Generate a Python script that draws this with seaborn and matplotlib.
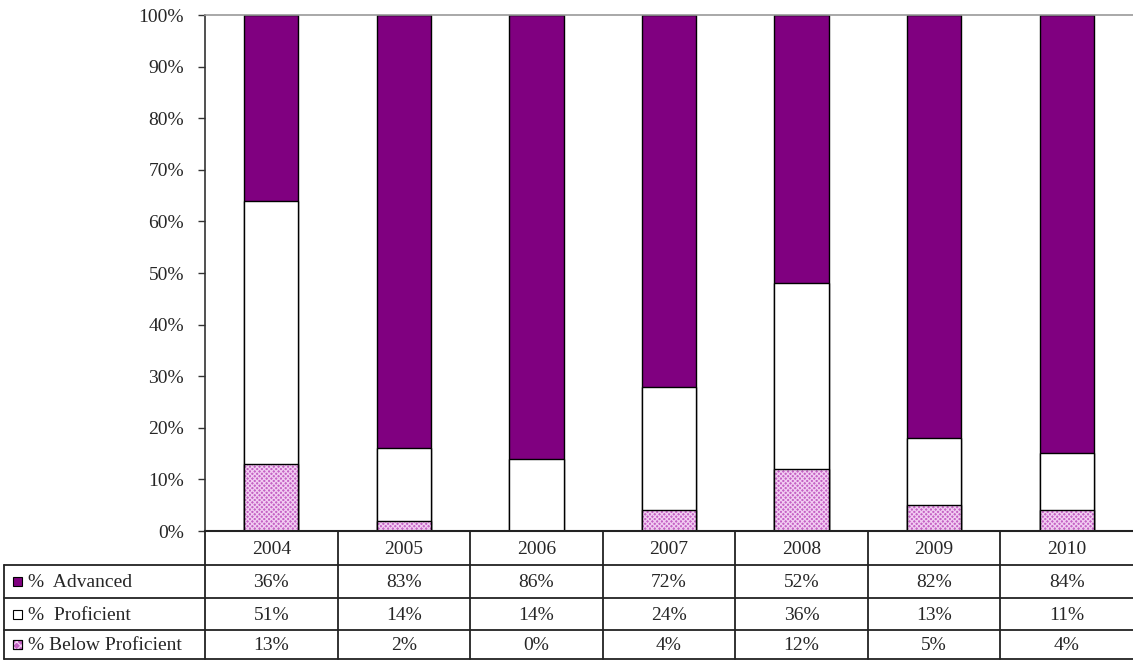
import matplotlib
matplotlib.use("Agg")
import matplotlib.pyplot as plt
from matplotlib.lines import Line2D
from matplotlib.patches import Rectangle
import numpy as np
import pandas as pd
import seaborn as sns

# ---------------------------------------------------------------------------
# Datos
# ---------------------------------------------------------------------------
years = ["2004", "2005", "2006", "2007", "2008", "2009", "2010"]
advanced = [36, 83, 86, 72, 52, 82, 84]
proficient = [51, 14, 14, 24, 36, 13, 11]
below = [13, 2, 0, 4, 12, 5, 4]

row_labels = ["%  Advanced", "%  Proficient", "% Below Proficient"]
y_ticks = [0, 10, 20, 30, 40, 50, 60, 70, 80, 90, 100]

PURPLE = "#800080"
PINK = "#C462C4"
PINK_HATCH = "#F2CCF2"

# ---------------------------------------------------------------------------
# Configuración general
# ---------------------------------------------------------------------------
sns.set_style("white")
plt.rcParams["font.family"] = ["Liberation Serif", "DejaVu Serif"]
plt.rcParams["hatch.linewidth"] = 0.9
FS = 14

W, H = 1133, 660
fig = plt.figure(figsize=(W / 100, H / 100), dpi=100)

# Zona del gráfico en píxeles (izq, arriba, der, abajo)
PX_L, PX_T, PX_R, PX_B = 205, 15, 1133, 531
ax = fig.add_axes([PX_L / W, 1 - PX_B / H, (PX_R - PX_L) / W, (PX_B - PX_T) / H])

# 100% apilado: normalizar cada año y dibujar alturas acumuladas de atrás hacia delante
tot = np.array(advanced) + np.array(proficient) + np.array(below)
below_pct = np.array(below) / tot * 100
prof_cum = (np.array(below) + np.array(proficient)) / tot * 100
adv_cum = tot / tot * 100

df = pd.DataFrame({"year": years, "adv": adv_cum, "prof": prof_cum, "below": below_pct})

bw = 0.41
sns.barplot(data=df, x="year", y="adv", order=years, color=PURPLE, width=bw,
            saturation=1, edgecolor="black", linewidth=1.0, ax=ax)
sns.barplot(data=df, x="year", y="prof", order=years, color="white", width=bw,
            saturation=1, edgecolor="black", linewidth=1.0, ax=ax)
sns.barplot(data=df, x="year", y="below", order=years, color=PINK, width=bw,
            saturation=1, linewidth=0, ax=ax)
sns.barplot(data=df, x="year", y="below", order=years, color=PINK_HATCH, width=bw,
            saturation=1, fill=False, hatch="xxxxxxx", linewidth=0, ax=ax)
sns.barplot(data=df, x="year", y="below", order=years, color="black", width=bw,
            saturation=1, fill=False, linewidth=1.0, ax=ax)

ax.set_xlim(-0.5, len(years) - 0.5)
ax.set_ylim(0, 100)
ax.set_yticks(y_ticks)
ax.set_yticklabels([f"{t}%" for t in y_ticks], fontsize=FS)
ax.set_xticks([])
ax.set_xlabel("")
ax.set_ylabel("")
ax.tick_params(axis="y", direction="out", length=5, width=1, color="#333333",
               left=True, pad=10)
ax.spines["right"].set_visible(False)
ax.spines["top"].set_color("#999999")
ax.spines["top"].set_linewidth(1.2)
ax.spines["left"].set_color("#333333")
ax.spines["bottom"].set_color("#222222")
ax.spines["left"].set_linewidth(1.2)
ax.spines["bottom"].set_linewidth(1.5)

# ---------------------------------------------------------------------------
# Tabla de datos (dibujada en coordenadas de píxel)
# ---------------------------------------------------------------------------
tab = fig.add_axes([0, 0, 1, 1], zorder=5)
tab.set_xlim(0, W)
tab.set_ylim(H, 0)
tab.axis("off")
tab.patch.set_visible(False)

n = len(years)
cw = (PX_R - PX_L) / n
row_y = [PX_B, 565, 598, 630, 659]
TAB_L = 4
lc = "#222222"
lw = 1.3

# líneas horizontales
for y in row_y[1:]:
    tab.add_line(Line2D([TAB_L, W], [y, y], color=lc, lw=lw))
# líneas verticales
tab.add_line(Line2D([TAB_L, TAB_L], [row_y[1], row_y[-1]], color=lc, lw=lw))
tab.add_line(Line2D([PX_L, PX_L], [row_y[0], row_y[-1]], color=lc, lw=lw))
for k in range(1, n):
    x = PX_L + k * cw
    tab.add_line(Line2D([x, x], [row_y[0], row_y[-1]], color=lc, lw=lw))

# cabecera
for i, yr in enumerate(years):
    tab.text(PX_L + (i + 0.5) * cw, (row_y[0] + row_y[1]) / 2 + 1, yr,
             ha="center", va="center", fontsize=FS)

series = [advanced, proficient, below]
for r, (lab, vals) in enumerate(zip(row_labels, series)):
    yc = (row_y[r + 1] + row_y[r + 2]) / 2 + 1
    for i, v in enumerate(vals):
        tab.text(PX_L + (i + 0.5) * cw, yc, f"{v}%", ha="center", va="center",
                 fontsize=FS)
    tab.text(28, yc, lab, ha="left", va="center", fontsize=FS)

# claves de la leyenda
key = 9
keys_y = [(row_y[r + 1] + row_y[r + 2]) / 2 for r in range(3)]
tab.add_patch(Rectangle((13, keys_y[0] - key / 2), key, key, facecolor=PURPLE,
                        edgecolor="black", lw=0.8))
tab.add_patch(Rectangle((13, keys_y[1] - key / 2), key, key, facecolor="white",
                        edgecolor="black", lw=0.8))
tab.add_patch(Rectangle((13, keys_y[2] - key / 2), key, key, facecolor=PINK,
                        edgecolor="black", lw=0.8))
tab.add_patch(Rectangle((13, keys_y[2] - key / 2), key, key, facecolor="none",
                        edgecolor=PINK_HATCH, hatch="xxxx", lw=0))
tab.add_patch(Rectangle((13, keys_y[2] - key / 2), key, key, facecolor="none",
                        edgecolor="black", lw=0.8))

fig.savefig("out.png", dpi=100)
